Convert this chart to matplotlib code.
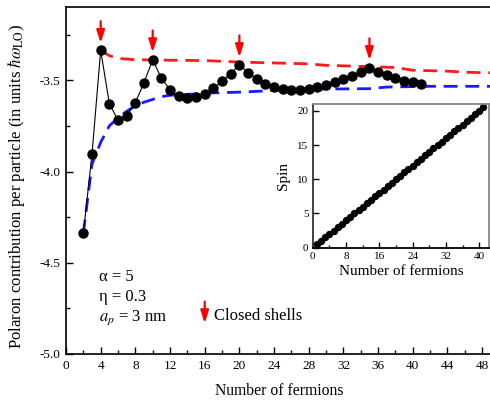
import matplotlib
matplotlib.use("Agg")
import matplotlib.pyplot as plt
from matplotlib.ticker import MultipleLocator

plt.rcParams['font.family'] = ['Liberation Serif', 'DejaVu Serif']
plt.rcParams['mathtext.fontset'] = 'stix'

# ---- data ----
n_fermions = [2, 3, 4, 5, 6, 7, 8, 9, 10, 11, 12, 13, 14, 15, 16, 17, 18, 19, 20, 21,
              22, 23, 24, 25, 26, 27, 28, 29, 30, 31, 32, 33, 34, 35, 36, 37, 38, 39, 40, 41]
polaron = [-4.339, -3.905, -3.336, -3.628, -3.719, -3.697, -3.622, -3.513, -3.387, -3.489,
           -3.551, -3.586, -3.597, -3.591, -3.573, -3.544, -3.505, -3.463, -3.414, -3.458,
           -3.493, -3.518, -3.537, -3.547, -3.553, -3.551, -3.546, -3.537, -3.527, -3.511,
           -3.495, -3.477, -3.455, -3.430, -3.452, -3.473, -3.489, -3.502, -3.511, -3.522]

blue_n = [2, 3, 4, 5, 6, 7, 8, 9, 10, 11, 12, 14, 17, 20, 24, 30, 35, 37, 42, 50]
blue_v = [-4.339, -3.96, -3.84, -3.75, -3.705, -3.67, -3.64, -3.62, -3.605, -3.59,
          -3.582, -3.577, -3.569, -3.565, -3.556, -3.548, -3.546, -3.537, -3.533, -3.533]

red_n = [4, 5, 6, 8, 12, 16, 20, 24, 28, 30, 35, 38, 40, 44, 46, 50]
red_v = [-3.336, -3.365, -3.38, -3.387, -3.39, -3.392, -3.40, -3.405, -3.41, -3.418,
         -3.425, -3.43, -3.445, -3.45, -3.456, -3.46]

closed_shells = [4, 10, 20, 35]

spin_n = [1, 2, 3, 4, 5, 6, 7, 8, 9, 10, 11, 12, 13, 14, 15, 16, 17, 18, 19, 20, 21,
          22, 23, 24, 25, 26, 27, 28, 29, 30, 31, 32, 33, 34, 35, 36, 37, 38, 39, 40, 41]
spin_v = [0.5, 1.0, 1.5, 2.0, 2.5, 3.0, 3.5, 4.0, 4.5, 5.0, 5.5, 6.0, 6.5, 7.0, 7.5, 8.0,
          8.5, 9.0, 9.5, 10.0, 10.5, 11.0, 11.5, 12.0, 12.5, 13.0, 13.5, 14.0, 14.5, 15.0,
          15.5, 16.0, 16.5, 17.0, 17.5, 18.0, 18.5, 19.0, 19.5, 20.0, 20.5]

main_xticks = [0, 4, 8, 12, 16, 20, 24, 28, 32, 36, 40, 44, 48]
main_yticks = [-5.0, -4.5, -4.0, -3.5]

W, H = 490, 401
fig = plt.figure(figsize=(W / 100, H / 100), dpi=100)

ax = fig.add_axes([66 / W, (H - 354) / H, 433.5 / W, (354 - 7.3) / H])
ax.set_xlim(0, 50)
ax.set_ylim(-5.0, -3.1)

dash = (5, 2.8)
ax.plot(blue_n, blue_v, color='#1a1aff', lw=2.0, dashes=dash, zorder=2)
ax.plot(red_n, red_v, color='#ff1a1a', lw=2.0, dashes=dash, zorder=2)
ax.plot(n_fermions, polaron, color='black', lw=0.8, marker='o', ms=6.5,
        mfc='black', mec='black', zorder=3)

# closed-shell arrows
for n in closed_shells:
    v = polaron[n_fermions.index(n)]
    ax.annotate('', xy=(n, v + 0.04), xytext=(n, v + 0.16),
                arrowprops=dict(arrowstyle='-|>,head_length=0.75,head_width=0.24',
                                color='red', lw=1.6, mutation_scale=10,
                                shrinkA=0, shrinkB=0), zorder=4)

ax.set_xticks(main_xticks)
ax.set_yticks(main_yticks)
ax.set_yticklabels([f"{t:.1f}" for t in main_yticks])
ax.xaxis.set_minor_locator(MultipleLocator(2))
ax.yaxis.set_minor_locator(MultipleLocator(0.25))
ax.tick_params(which='both', direction='in', top=False, right=False, labelsize=9.5, width=1)
ax.tick_params(which='major', length=5, pad=4)
ax.tick_params(which='minor', length=3)
for s in ax.spines.values():
    s.set_linewidth(1.2)

ax.set_xlabel('Number of fermions', fontsize=11.3)
ax.xaxis.set_label_coords(0.491, -0.085)
ax.set_ylabel(r'Polaron contribution per particle (in units $\hbar\omega_{\mathrm{LO}}$)',
              fontsize=12.1)
ax.yaxis.set_label_coords(-0.09, 0.482)

# parameter text
ax.text(3.8, -4.598, 'α = 5', fontsize=12, va='baseline')
ax.text(3.8, -4.708, 'η = 0.3', fontsize=12, va='baseline')
ax.text(3.8, -4.818, r'$a_p$ = 3 nm', fontsize=12, va='baseline')

# legend arrow
ax.annotate('', xy=(16.0, -4.832), xytext=(16.0, -4.713),
            arrowprops=dict(arrowstyle='-|>,head_length=0.75,head_width=0.24',
                            color='red', lw=1.6, mutation_scale=10,
                            shrinkA=0, shrinkB=0))
ax.text(17.1, -4.814, 'Closed shells', fontsize=12, va='baseline')

# inset
ins = fig.add_axes([312.7 / W, (H - 247.7) / H, 176.6 / W, (247.7 - 104) / H])
ins.set_xlim(0, 42.4)
ins.set_ylim(0, 21)
ins.plot(spin_n, spin_v, 'o', color='black', ms=4.3)
ins.set_xticks([0, 8, 16, 24, 32, 40])
ins.set_yticks([0, 5, 10, 15, 20])
ins.xaxis.set_minor_locator(MultipleLocator(4))
ins.tick_params(which='both', direction='in', labelsize=8, width=1)
ins.tick_params(which='major', length=4, pad=3)
ins.tick_params(which='minor', length=2)
ins.spines['left'].set_color('#333333')
ins.spines['bottom'].set_color('black')
ins.spines['top'].set_color('#888888')
ins.spines['right'].set_color('#888888')
for s in ins.spines.values():
    s.set_linewidth(1.3)
ins.set_xlabel('Number of fermions', fontsize=11, labelpad=3)
ins.set_ylabel('Spin', fontsize=11, labelpad=5)

fig.savefig('out.png', dpi=100)
